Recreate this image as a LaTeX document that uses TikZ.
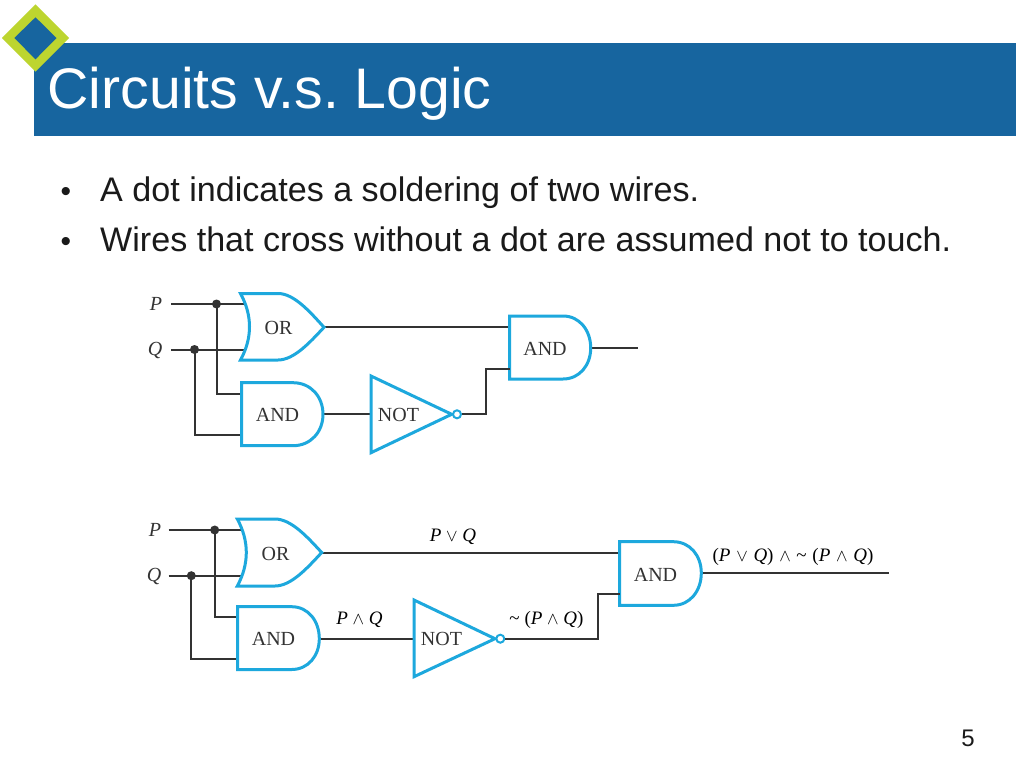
\documentclass[tikz,border=0pt]{standalone}
\usepackage{fontspec}
\setmainfont{Liberation Serif}
\newfontfamily\sansf{Liberation Sans}
\frenchspacing
\definecolor{barblue}{HTML}{17659F}
\definecolor{lime}{HTML}{BDD52F}
\definecolor{gateblue}{HTML}{1DA8DD}
\definecolor{wirecol}{HTML}{333333}
\definecolor{slidetext}{HTML}{1A1A1A}
\tikzset{
  wire/.style={draw=wirecol,line width=2pt},
  gate/.style={draw=gateblue,line width=3pt,fill=white,line join=miter},
  gatetext/.style={text=wirecol,font=\fontsize{20}{22}\selectfont,inner sep=0pt},
  solder/.style={circle,fill=wirecol,inner sep=0pt,minimum size=9pt},
  bubble/.style={circle,draw=gateblue,line width=2pt,fill=white,inner sep=0pt,minimum size=8pt},
  inlabel/.style={text=wirecol,font=\fontsize{20}{22}\selectfont\itshape,inner sep=0pt},
  exprlabel/.style={text=black,font=\fontsize{19}{22}\selectfont,inner sep=0pt},
  bullettext/.style={anchor=base west,text=slidetext,font=\sansf\fontsize{34.1}{38}\selectfont,inner sep=0pt},
  bulletmark/.style={anchor=center,text=slidetext,font=\sansf\fontsize{30}{32}\selectfont,inner sep=0pt}
}
% OR gate: left x, top y, flat end x, tip x, mid y, bottom y, back bulge x
\newcommand{\orgate}[7]{\path[gate] (#1,#2) -- (#3,#2) .. controls ({#3+0.35*(#4-#3)},#2) and ({#3+0.7*(#4-#3)},{#5-0.45*(#5-#2)}) .. (#4,#5) .. controls ({#3+0.7*(#4-#3)},{#5+0.45*(#6-#5)}) and ({#3+0.35*(#4-#3)},#6) .. (#3,#6) -- (#1,#6) .. controls (#7,{#6-0.33*(#6-#2)}) and (#7,{#2+0.33*(#6-#2)}) .. cycle;}
% AND gate: left x, top y, flat end x, right x, mid y, bottom y
\newcommand{\andgate}[6]{\path[gate] (#1,#2) -- (#3,#2) .. controls ({#3+0.6*(#4-#3)},#2) and (#4,{#5-0.55*(#5-#2)}) .. (#4,#5) .. controls (#4,{#5+0.55*(#6-#5)}) and ({#3+0.6*(#4-#3)},#6) .. (#3,#6) -- (#1,#6) -- cycle;}
\begin{document}
\begin{tikzpicture}[x=1pt,y=-1pt]
\useasboundingbox (0,0) rectangle (1024,768);
\fill[white] (0,0) rectangle (1024,768);
% header
\fill[barblue] (34,43) rectangle (1016,136);
\fill[lime] (35.5,4.3) -- (69,38) -- (35.5,71.7) -- (2,38) -- cycle;
\fill[barblue] (35.5,17.3) -- (56.5,38) -- (35.5,59.3) -- (14.3,38) -- cycle;
\node[anchor=base west,text=white,font=\sansf\fontsize{57.2}{60}\selectfont,inner sep=0pt] (title) at (47.5,108) {Circuits v.s. Logic};
\node[bulletmark] (b1) at (66,194) {•};
\node[bullettext] (t1) at (100,201.5) {A dot indicates a soldering of two wires.};
\node[bulletmark] (b2) at (66,244) {•};
\node[bullettext] (t2) at (100,251.5) {Wires that cross without a dot are assumed not to touch.};
\node[anchor=base,text=slidetext,font=\sansf\fontsize{24}{26}\selectfont,inner sep=0pt] (pageno) at (968,746) {5};

% ---- upper circuit ----
\node[inlabel] (P1) at (156,304) {P};
\node[inlabel] (Q1) at (155,350) {Q};
\coordinate (P1s) at (171,304); \coordinate (Q1s) at (171,349.5);
\node[solder] (dp1) at (216.5,304) {};
\node[solder] (dq1) at (194.5,349.5) {};
\coordinate (orAin) at (246,304); \coordinate (orBin) at (246,349.5);
\coordinate (andAin) at (242,394); \coordinate (andBin) at (242,435);
\coordinate (orOut) at (324,327.3); \coordinate (andOut) at (323,414.3);
\coordinate (notIn) at (371,414.3);
\coordinate (finAin) at (510,327.3); \coordinate (finBin) at (510,369.3);
\coordinate (finOut) at (590.7,348); \coordinate (end1) at (637.5,348);
\draw[wire] (P1s) -- (orAin);
\draw[wire] (Q1s) -- (orBin);
\draw[wire] (dp1.center) |- (andAin);
\draw[wire] (dq1.center) |- (andBin);
\draw[wire] (orOut) -- (finAin);
\draw[wire] (andOut) -- (notIn);
\draw[wire] (finOut) -- (end1);
\orgate{240.5}{293.5}{278}{324}{327.3}{360}{252.5}
\andgate{241.7}{382.7}{293}{323}{414.3}{445.7}
\andgate{509.5}{316}{563}{590.7}{348}{379}
\path[gate] (371,376) -- (451.7,414.3) -- (371,452.7) -- cycle;
\node[bubble] (bub1) at (457,414.3) {};
\draw[wire] (bub1) -| (485.5,369.3) -- (finBin);
\node[gatetext] (orL1) at (278.5,328) {OR};
\node[gatetext] (and1L) at (277.5,415) {AND};
\node[gatetext] (notL1) at (398.5,414.5) {NOT};
\node[gatetext] (and2L) at (545,348.5) {AND};

% ---- lower circuit ----
\node[inlabel] (P2) at (155,530) {P};
\node[inlabel] (Q2) at (154,576) {Q};
\coordinate (P2s) at (168.5,530); \coordinate (Q2s) at (168.5,575.7);
\node[solder] (dp2) at (214.7,530) {};
\node[solder] (dq2) at (191.3,575.7) {};
\coordinate (orCin) at (243,530); \coordinate (orDin) at (243,575.7);
\coordinate (andCin) at (238,617.3); \coordinate (andDin) at (238,659);
\coordinate (orOut2) at (321.7,552.5); \coordinate (andOut2) at (319.3,638.7);
\coordinate (notIn2) at (414,638.7);
\coordinate (finCin) at (620,552.5); \coordinate (finDin) at (620,594.3);
\coordinate (finOut2) at (701.3,573); \coordinate (end2) at (888.5,573);
\draw[wire] (P2s) -- (orCin);
\draw[wire] (Q2s) -- (orDin);
\draw[wire] (dp2.center) |- (andCin);
\draw[wire] (dq2.center) |- (andDin);
\draw[wire] (orOut2) -- (finCin);
\draw[wire] (andOut2) -- (notIn2);
\draw[wire] (finOut2) -- (end2);
\orgate{237.3}{519}{275}{321.7}{552.5}{586}{249.3}
\andgate{237.5}{606.7}{291.7}{319.3}{638.7}{669.5}
\andgate{619.5}{541.7}{673.3}{701.3}{573}{605.3}
\path[gate] (414,600) -- (495,638.7) -- (414,676.7) -- cycle;
\node[bubble] (bub2) at (500.3,638.7) {};
\draw[wire] (bub2) -| (598.3,594.3) -- (finDin);
\node[gatetext] (orL2) at (275.5,553.5) {OR};
\node[gatetext] (and3L) at (273.5,639) {AND};
\node[gatetext] (notL2) at (441.5,638.5) {NOT};
\node[gatetext] (and4L) at (655.5,574.5) {AND};

\node[exprlabel] (e1) at (453,536.5) {\textit{P} $\vee$ \textit{Q}};
\node[exprlabel] (e2) at (359.5,620) {\textit{P} $\wedge$ \textit{Q}};
\node[exprlabel] (e3) at (546.5,620) {\textasciitilde\ (\textit{P} $\wedge$ \textit{Q})};
\node[exprlabel] (e4) at (793,556.5) {\spaceskip=0.3em (\textit{P} $\vee$ \textit{Q}) $\wedge$ \textasciitilde\ (\textit{P} $\wedge$ \textit{Q})};
\end{tikzpicture}
\end{document}
